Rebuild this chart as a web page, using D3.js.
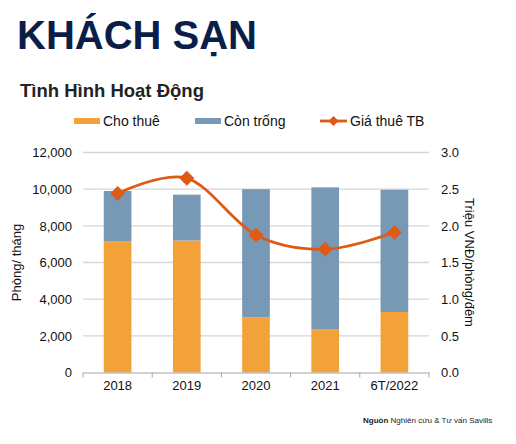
<!DOCTYPE html>
<html><head><meta charset="utf-8">
<script src="https://cdn.jsdelivr.net/npm/d3@7/dist/d3.min.js"></script>
<style>body{margin:0;background:#fff}svg{display:block}text{font-family:"Liberation Sans",Arial,sans-serif}</style>
</head><body>
<svg id="c" width="516" height="444"></svg>
<script>
const categories = ["2018","2019","2020","2021","6T/2022"];
const choThue = [7170, 7200, 3000, 2370, 3300];
const conTrong = [2730, 2500, 7000, 7730, 6670];
const giaThue = [2.44, 2.65, 1.875, 1.68, 1.91];
const leftTicks = [0,2000,4000,6000,8000,10000,12000];
const rightTicks = [0,0.5,1.0,1.5,2.0,2.5,3.0];

const svg = d3.select("#c");
const L = 83, R = 429, T = 152.5, B = 372.5;
const x = d3.scaleBand().domain(categories).range([L,R]).paddingInner(0.6).paddingOuter(0.3);
const xb = d3.scaleBand().domain(categories).range([L,R]);
const y = d3.scaleLinear().domain([0,12000]).range([B,T]);
const y2 = d3.scaleLinear().domain([0,3]).range([B,T]);

const cOrange = "#F3A23A", cBlue = "#7899B6", cLine = "#DF5A17", cGrid = "#D9D6D2";
const diamond = r => `M0,${-r}L${r},0L0,${r}L${-r},0Z`;

svg.append("text").attr("x",17).attr("y",49).attr("font-size",40).attr("font-weight","bold").attr("fill","#0B1E4A").text("KHÁCH SẠN");
svg.append("text").attr("x",20).attr("y",97).attr("font-size",18.5).attr("font-weight","bold").attr("fill","#222").text("Tình Hình Hoạt Động");

// grid
svg.append("g").selectAll("line").data(leftTicks.slice(1)).join("line")
  .attr("x1",L).attr("x2",R).attr("y1",d=>y(d)).attr("y2",d=>y(d))
  .attr("stroke",cGrid).attr("stroke-width",1.3);

// bars
const g = svg.append("g");
categories.forEach((c,i)=>{
  g.append("rect").attr("x",x(c)).attr("width",x.bandwidth()).attr("y",y(choThue[i])).attr("height",y(0)-y(choThue[i])).attr("fill",cOrange);
  g.append("rect").attr("x",x(c)).attr("width",x.bandwidth()).attr("y",y(choThue[i]+conTrong[i])).attr("height",y(choThue[i])-y(choThue[i]+conTrong[i])).attr("fill",cBlue);
});

// bottom axis
const xAxis = d3.axisBottom(xb).tickSize(0).tickPadding(8);
const ax = svg.append("g").attr("transform",`translate(0,${B})`).call(xAxis);
ax.select(".domain").attr("stroke","#A6A6A6").attr("stroke-width",1.2);
ax.selectAll("text").attr("font-size",13).attr("fill","#111").attr("font-family","Liberation Sans, Arial, sans-serif");
svg.append("g").selectAll("line").data(d3.range(categories.length+1)).join("line")
  .attr("x1",d=>L+d*xb.bandwidth()).attr("x2",d=>L+d*xb.bandwidth()).attr("y1",B).attr("y2",B+5)
  .attr("stroke","#A6A6A6").attr("stroke-width",1);

// left axis labels
const ay = svg.append("g").attr("transform",`translate(${L},0)`).call(d3.axisLeft(y).tickValues(leftTicks).tickFormat(d3.format(",")).tickSize(0).tickPadding(11));
ay.select(".domain").remove();
ay.selectAll("text").attr("font-size",13).attr("fill","#111").attr("font-family","Liberation Sans, Arial, sans-serif");
const ay2 = svg.append("g").attr("transform",`translate(${R},0)`).call(d3.axisRight(y2).tickValues(rightTicks).tickFormat(d3.format(".1f")).tickSize(0).tickPadding(12));
ay2.select(".domain").remove();
ay2.selectAll("text").attr("font-size",13).attr("fill","#111").attr("font-family","Liberation Sans, Arial, sans-serif");

svg.append("text").attr("transform",`translate(21,${(T+B)/2}) rotate(-90)`).attr("text-anchor","middle").attr("font-size",13).attr("fill","#111").text("Phòng/ tháng");
svg.append("text").attr("transform",`translate(465,${(T+B)/2}) rotate(90)`).attr("text-anchor","middle").attr("font-size",13).attr("fill","#111").text("Triệu VNĐ/phòng/đêm");

// line
const line = d3.line().x((d,i)=>xb(categories[i])+xb.bandwidth()/2).y(d=>y2(d)).curve(d3.curveCatmullRom.alpha(0));
svg.append("path").datum(giaThue).attr("d",line).attr("fill","none").attr("stroke",cLine).attr("stroke-width",2.8);
svg.append("g").selectAll("path").data(giaThue).join("path")
  .attr("d",diamond(7.5)).attr("transform",(d,i)=>`translate(${xb(categories[i])+xb.bandwidth()/2},${y2(d)})`).attr("fill",cLine);

// legend
const lg = svg.append("g");
lg.append("rect").attr("x",74).attr("y",118).attr("width",26).attr("height",6).attr("fill",cOrange);
lg.append("text").attr("x",103).attr("y",126).attr("font-size",14).attr("fill","#111").text("Cho thuê");
lg.append("rect").attr("x",195).attr("y",118).attr("width",26).attr("height",6).attr("fill",cBlue);
lg.append("text").attr("x",224).attr("y",126).attr("font-size",14).attr("fill","#111").text("Còn trống");
lg.append("line").attr("x1",320).attr("x2",347).attr("y1",121).attr("y2",121).attr("stroke",cLine).attr("stroke-width",2.8);
lg.append("path").attr("d",diamond(5)).attr("transform","translate(333.5,121)").attr("fill",cLine);
lg.append("text").attr("x",350).attr("y",126).attr("font-size",14).attr("fill","#111").text("Giá thuê TB");

// source
const s = svg.append("text").attr("x",363).attr("y",423).attr("font-size",8).attr("fill","#222");
s.append("tspan").attr("font-weight","bold").text("Nguồn");
s.append("tspan").text(" Nghiên cứu & Tư vấn Savills");
</script>
</body></html>
